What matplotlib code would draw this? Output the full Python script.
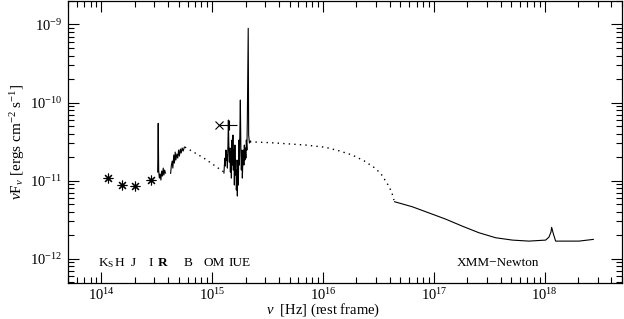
import numpy as np
import matplotlib
matplotlib.use("Agg")
import matplotlib.pyplot as plt
from matplotlib.ticker import LogLocator, NullFormatter

plt.rcParams['font.family'] = ['Liberation Serif', 'DejaVu Serif']
plt.rcParams['mathtext.fontset'] = 'custom'
plt.rcParams['mathtext.rm'] = 'Liberation Serif'
plt.rcParams['mathtext.it'] = 'Liberation Serif:italic'
plt.rcParams['mathtext.bf'] = 'Liberation Serif:bold'

# photometry (log nu [Hz], log nuFnu)
phot_bands = ['Ks', 'H', 'J', 'I']
phot_lognu = [14.061, 14.182, 14.305, 14.449]
phot_logf = [-10.971, -11.056, -11.065, -10.992]

# R-band spectrum
r_lognu = [14.508, 14.513, 14.517, 14.523, 14.530, 14.537, 14.544, 14.551,
           14.558, 14.564, 14.571, 14.578]
r_logf = [-10.890, -10.266, -10.864, -10.967, -10.915, -10.992, -10.877,
          -10.941, -10.839, -10.928, -10.864, -10.903]

# B-band spectrum
b_lognu = [14.625, 14.632, 14.639, 14.645, 14.653, 14.659, 14.666, 14.672,
           14.681, 14.689, 14.697, 14.704, 14.713, 14.720, 14.729, 14.738, 14.749]
b_logf = [-10.906, -10.800, -10.749, -10.839, -10.672, -10.775, -10.634,
          -10.736, -10.659, -10.711, -10.608, -10.685, -10.595, -10.646,
          -10.582, -10.621, -10.570]

# interpolation optical -> UV (dotted)
gap1_lognu = [14.754, 14.925, 15.106]
gap1_logf = [-10.570, -10.711, -10.890]

# OM points
om_cross_lognu = 15.060
om_cross_logf = -10.288
om_plus_lognu = 15.151
om_plus_logf = -10.288
om_plus_xlo = 15.060
om_plus_xhi = 15.226
om_plus_yerr = 0.065

# IUE spectrum
iue_lognu = [15.106, 15.110, 15.115, 15.119, 15.124, 15.128, 15.133, 15.137,
             15.142, 15.146, 15.151, 15.155, 15.160, 15.164, 15.169, 15.173,
             15.178, 15.182, 15.187, 15.191, 15.196, 15.200, 15.205, 15.209,
             15.214, 15.218, 15.223, 15.227, 15.232, 15.236, 15.241, 15.245,
             15.250, 15.254, 15.259, 15.263, 15.268, 15.272, 15.277, 15.281,
             15.286, 15.290, 15.295, 15.299, 15.304, 15.308, 15.313, 15.317,
             15.325, 15.329, 15.336, 15.345]
iue_logf = [-10.903, -10.800, -10.711, -10.813, -10.608, -10.736, -10.672,
            -10.839, -10.544, -10.224, -10.608, -10.762, -10.582, -10.890,
            -10.634, -10.967, -10.480, -10.800, -10.416, -10.864, -10.608,
            -11.056, -10.544, -10.928, -10.736, -11.120, -10.864, -11.197,
            -10.736, -11.056, -10.480, -10.800, -10.352, -9.968, -10.608,
            -10.864, -10.608, -10.967, -10.736, -10.608, -10.800, -10.544,
            -10.736, -10.582, -10.711, -10.480, -10.608, -10.224, -9.049,
            -10.416, -10.518, -10.493]

# interpolation UV -> X-ray (dotted)
gap2_lognu = [15.340, 15.542, 15.843, 16.023, 16.143, 16.264, 16.369, 16.460,
              16.520, 16.579, 16.619, 16.640]
gap2_logf = [-10.502, -10.515, -10.544, -10.573, -10.617, -10.672, -10.745,
             -10.830, -10.906, -11.035, -11.142, -11.249]

# XMM-Newton model
xmm_lognu = [16.646, 16.805, 17.106, 17.256, 17.407, 17.558, 17.708, 17.858,
             18.009, 18.039, 18.057, 18.063, 18.079, 18.099, 18.310, 18.439]
xmm_logf = [-11.270, -11.334, -11.492, -11.582, -11.667, -11.731, -11.761,
            -11.774, -11.761, -11.722, -11.658, -11.598, -11.684, -11.774,
            -11.774, -11.752]

# axis ticks
x_major = [1e14, 1e15, 1e16, 1e17, 1e18]
y_major = [1e-12, 1e-11, 1e-10, 1e-9]

# band labels along the bottom
band_labels = [r'K$_{\rm S}$', 'H', 'J', 'I', 'R', 'B', 'OM', 'IUE', 'XMM\u2212Newton']
band_label_nu = [1.11e14, 1.46e14, 1.94e14, 2.78e14, 3.54e14, 6.07e14,
                 1.05e15, 1.77e15, 3.8e17]


def lin(v):
    return 10 ** np.asarray(v)


fig = plt.figure(figsize=(6.24, 3.19), dpi=100)
ax = fig.add_axes([0.109, 0.113, 0.888, 0.884])

lw = 0.8
ax.plot(lin(phot_lognu), lin(phot_logf), linestyle='none', marker=(8, 2, 0),
        markersize=7, markeredgewidth=0.8, color='black')
ax.plot(lin(r_lognu), lin(r_logf), color='black', lw=lw)
ax.plot(lin(b_lognu), lin(b_logf), color='black', lw=lw)
ax.plot(lin(iue_lognu), lin(iue_logf), color='black', lw=lw)
ax.plot(lin(xmm_lognu), lin(xmm_logf), color='black', lw=lw)
ax.plot(lin(gap1_lognu), lin(gap1_logf), color='black', lw=1.0, linestyle=(0, (1, 3)))
ax.plot(lin(gap2_lognu), lin(gap2_logf), color='black', lw=1.0, linestyle=(0, (1, 3)))

# OM
ax.plot(lin(om_cross_lognu), lin(om_cross_logf), marker='x', color='black',
        markersize=6, markeredgewidth=0.8, linestyle='none')
xerr = [[lin(om_plus_lognu) - lin(om_plus_xlo)], [lin(om_plus_xhi) - lin(om_plus_lognu)]]
yerr = [[lin(om_plus_logf) - lin(om_plus_logf - om_plus_yerr)],
        [lin(om_plus_logf + om_plus_yerr) - lin(om_plus_logf)]]
ax.errorbar(lin(om_plus_lognu), lin(om_plus_logf), xerr=xerr, yerr=yerr,
            fmt='none', ecolor='black', elinewidth=0.8, capsize=0)

ax.set_xscale('log')
ax.set_yscale('log')
ax.set_xticks(x_major)
ax.set_yticks(y_major)
ax.set_xlim(5e13, 5e18)
ax.set_ylim(4.9e-13, 2e-9)

for a in (ax.xaxis, ax.yaxis):
    a.set_minor_locator(LogLocator(base=10, subs=np.arange(2, 10), numticks=20))
    a.set_minor_formatter(NullFormatter())
ax.tick_params(which='both', direction='in', top=True, right=True, labelsize=10.5)
ax.tick_params(which='major', length=8, width=0.8, pad=4)
ax.tick_params(axis='x', which='major', pad=3)
ax.tick_params(which='minor', length=4, width=0.8)
for s in ax.spines.values():
    s.set_linewidth(0.9)

ax.set_xlabel(r'$\nu$  [Hz] (rest frame)', fontsize=10.5)
ax.xaxis.set_label_coords(0.46, -0.066)
ax.set_ylabel(r'$\nu$F$_\nu$ [ergs cm$^{-2}$ s$^{-1}$]', fontsize=11, labelpad=2)

label_y = 8.8e-13
for text, nu in zip(band_labels, band_label_nu):
    weight = 'bold' if text == 'R' else 'normal'
    ax.text(nu, label_y, text, ha='center', va='center', fontsize=9.5,
            fontweight=weight)

fig.savefig('out.png', dpi=100)
